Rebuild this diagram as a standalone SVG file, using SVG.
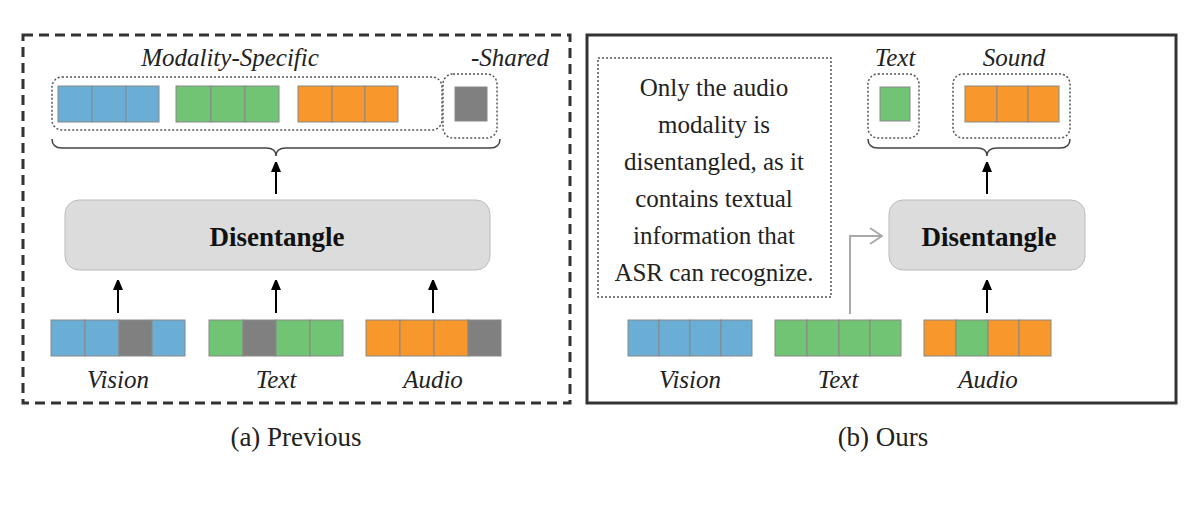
<svg xmlns="http://www.w3.org/2000/svg" width="1200" height="508" viewBox="0 0 1200 508">
<defs>
<marker id="ah" markerWidth="10" markerHeight="12" refX="10" refY="5" orient="auto" markerUnits="userSpaceOnUse"><path d="M0,0 L12,5 L0,10 Z" fill="#000"/></marker>
<marker id="ahg" markerWidth="14" markerHeight="18" refX="13" refY="9" orient="auto" markerUnits="userSpaceOnUse"><path d="M1,1 L13,9 L1,17" fill="none" stroke="#aaa" stroke-width="2"/></marker>
</defs>
<style>
.b{fill:#6aaed6;stroke:#888;stroke-width:1}
.g{fill:#72c475;stroke:#888;stroke-width:1}
.o{fill:#f7972c;stroke:#888;stroke-width:1}
.k{fill:#808080;stroke:#888;stroke-width:1}
.dot{fill:none;stroke:#555;stroke-width:1.5;stroke-dasharray:2 2}
.box{fill:#dcdcdc;stroke:#bbb;stroke-width:1}
.it{font-family:"Liberation Serif","Times New Roman",serif;font-style:italic;font-size:25px;fill:#222;text-anchor:middle}
.bd{font-family:"Liberation Serif","Times New Roman",serif;font-weight:bold;font-size:27px;fill:#111;text-anchor:middle}
.tx{font-family:"Liberation Serif","Times New Roman",serif;font-size:25px;fill:#222;text-anchor:middle}
.cap{font-family:"Liberation Serif","Times New Roman",serif;font-size:27px;fill:#222;text-anchor:middle}
.ar{stroke:#000;stroke-width:2;fill:none;marker-end:url(#ah)}
.br{fill:none;stroke:#444;stroke-width:1.5}
</style>
<rect x="23" y="35" width="547" height="368" fill="none" stroke="#333" stroke-width="3" stroke-dasharray="10 6"/>
<rect x="587" y="35" width="589" height="368" fill="none" stroke="#333" stroke-width="3"/>
<g id="left-top">
<text class="it" x="230" y="66">Modality-Specific</text>
<text class="it" x="510" y="66">-Shared</text>
<rect class="dot" x="52" y="77" width="390" height="53" rx="10"/>
<rect class="b" x="58" y="86" width="34" height="36"/><rect class="b" x="92" y="86" width="34" height="36"/><rect class="b" x="126" y="86" width="33" height="36"/>
<rect class="g" x="176" y="86" width="35" height="36"/><rect class="g" x="211" y="86" width="34" height="36"/><rect class="g" x="245" y="86" width="34" height="36"/>
<rect class="o" x="298" y="86" width="34" height="36"/><rect class="o" x="332" y="86" width="33" height="36"/><rect class="o" x="365" y="86" width="33" height="36"/>
<rect class="dot" x="443" y="74" width="54" height="64" rx="10"/>
<rect class="k" x="455" y="87" width="32" height="34"/>
<path class="br" d="M52,139 Q52,148 62,148 L266,148 Q276,148 276,156 Q276,148 286,148 L490,148 Q500,148 500,139"/>
</g>
<g id="left-dis"><rect class="box" x="65" y="200" width="425" height="70" rx="14"/><text class="bd" x="277" y="246">Disentangle</text></g>
<g id="left-in">
<rect class="b" x="51" y="320" width="34" height="36"/><rect class="b" x="85" y="320" width="34" height="36"/><rect class="k" x="119" y="320" width="33" height="36"/><rect class="b" x="152" y="320" width="33" height="36"/>
<rect class="g" x="209" y="320" width="34" height="36"/><rect class="k" x="243" y="320" width="33" height="36"/><rect class="g" x="276" y="320" width="34" height="36"/><rect class="g" x="310" y="320" width="33" height="36"/>
<rect class="o" x="366" y="320" width="34" height="36"/><rect class="o" x="400" y="320" width="34" height="36"/><rect class="o" x="434" y="320" width="34" height="36"/><rect class="k" x="468" y="320" width="33" height="36"/>
<text class="it" x="118" y="388">Vision</text><text class="it" x="276" y="388">Text</text><text class="it" x="433" y="388">Audio</text>
</g>
<g id="right-note">
<rect class="dot" x="598" y="58" width="233" height="239"/>
<text class="tx" x="714" y="96">Only the audio</text>
<text class="tx" x="714" y="133">modality is</text>
<text class="tx" x="714" y="170">disentangled, as it</text>
<text class="tx" x="714" y="207">contains textual</text>
<text class="tx" x="714" y="244">information that</text>
<text class="tx" x="714" y="281">ASR can recognize.</text>
</g>
<g id="right-top">
<text class="it" x="895" y="66">Text</text><text class="it" x="1014" y="66">Sound</text>
<rect class="dot" x="868" y="74" width="51" height="64" rx="10"/>
<rect class="g" x="880" y="87" width="30" height="34"/>
<rect class="dot" x="953" y="74" width="117" height="64" rx="10"/>
<rect class="o" x="965" y="86" width="32" height="36"/><rect class="o" x="997" y="86" width="31" height="36"/><rect class="o" x="1028" y="86" width="31" height="36"/>
<path class="br" d="M868,139 Q868,148 878,148 L977,148 Q987,148 987,156 Q987,148 997,148 L1060,148 Q1070,148 1070,139"/>
</g>
<g id="right-dis"><rect class="box" x="889" y="200" width="196" height="70" rx="14"/><text class="bd" x="989" y="246">Disentangle</text></g>
<g id="right-in">
<rect class="b" x="628" y="320" width="31" height="36"/><rect class="b" x="659" y="320" width="31" height="36"/><rect class="b" x="690" y="320" width="31" height="36"/><rect class="b" x="721" y="320" width="31" height="36"/>
<rect class="g" x="775" y="320" width="32" height="36"/><rect class="g" x="807" y="320" width="32" height="36"/><rect class="g" x="839" y="320" width="31" height="36"/><rect class="g" x="870" y="320" width="31" height="36"/>
<rect class="o" x="924" y="320" width="32" height="36"/><rect class="g" x="956" y="320" width="32" height="36"/><rect class="o" x="988" y="320" width="31" height="36"/><rect class="o" x="1019" y="320" width="32" height="36"/>
<text class="it" x="690" y="388">Vision</text><text class="it" x="838" y="388">Text</text><text class="it" x="988" y="388">Audio</text>
</g>
<g id="connectors">
<path class="ar" d="M276,194 V162"/>
<path class="ar" d="M118,313 V280"/><path class="ar" d="M276,313 V280"/><path class="ar" d="M433,313 V280"/>
<path class="ar" d="M987,194 V162"/><path class="ar" d="M987,313 V280"/>
<path d="M850,314 V236 H882" fill="none" stroke="#aaa" stroke-width="2" marker-end="url(#ahg)"/>
</g>
<text class="cap" x="296" y="446">(a) Previous</text>
<text class="cap" x="883" y="446">(b) Ours</text>
</svg>
